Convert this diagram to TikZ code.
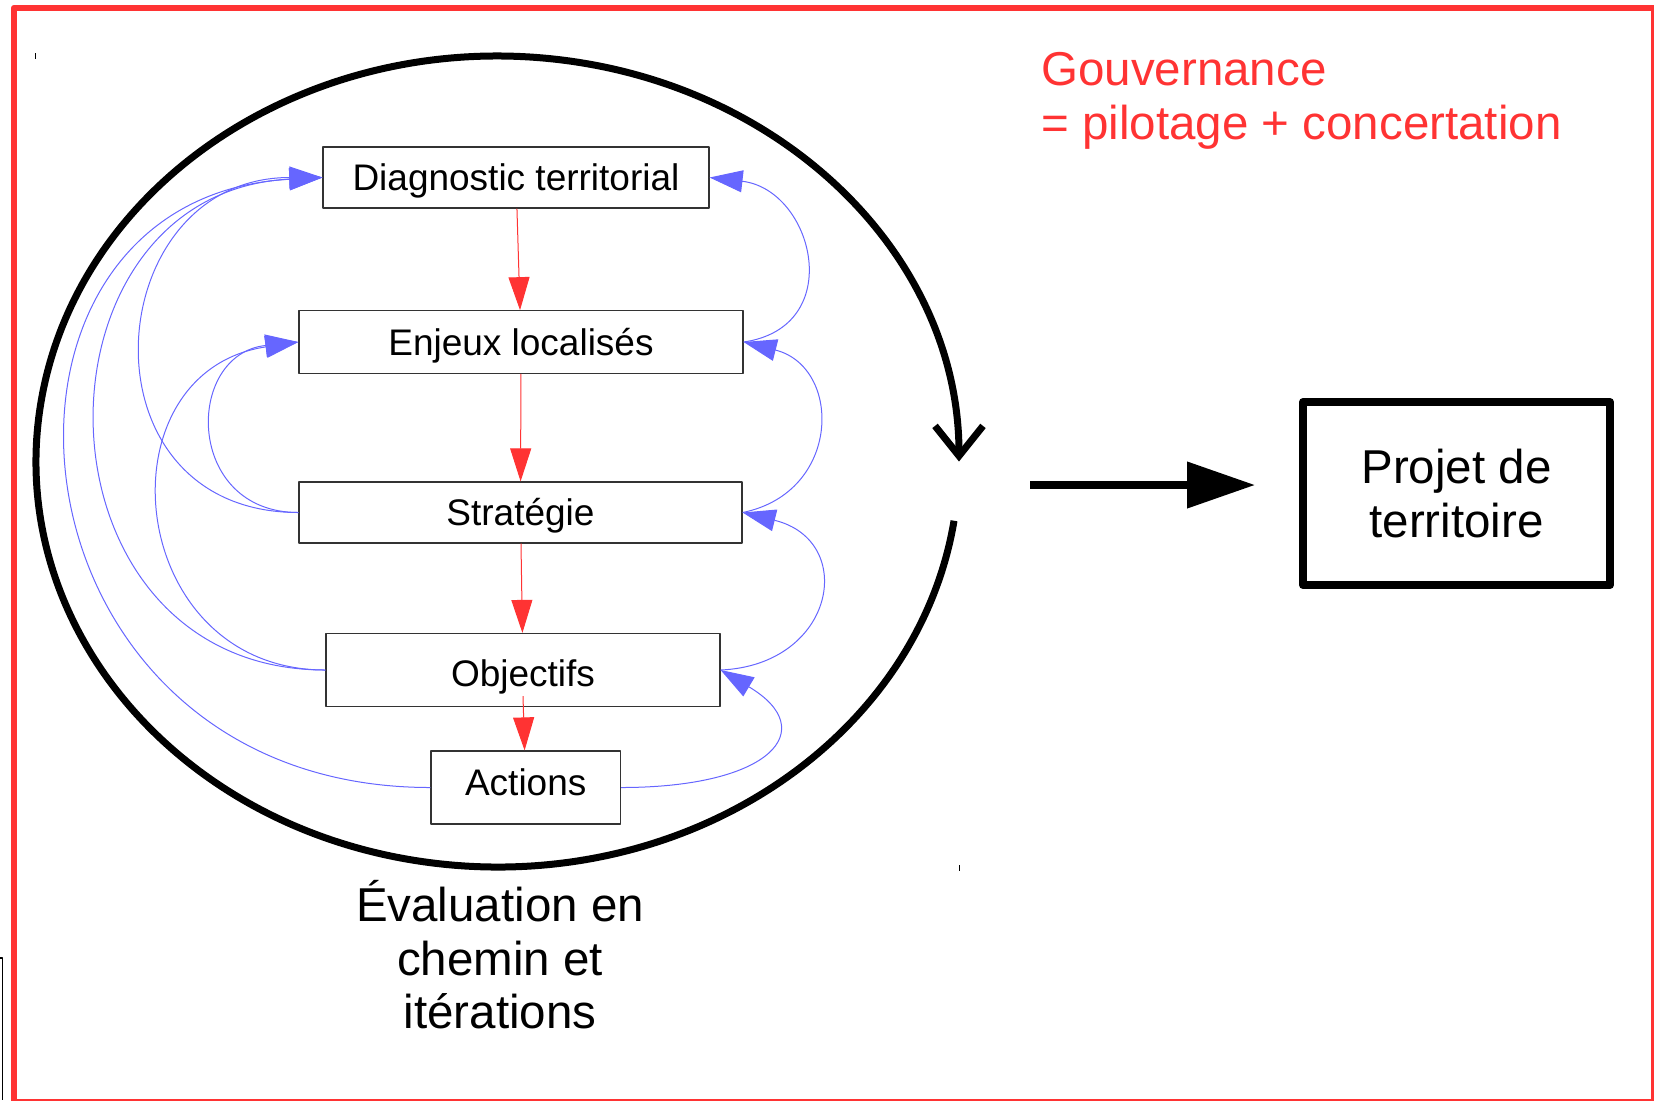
\documentclass[tikz,border=0pt]{standalone}
\usepackage{fontspec}
\setmainfont{Liberation Sans}
\usetikzlibrary{arrows.meta}
\definecolor{cadre}{RGB}{255,51,51}
\definecolor{boucle}{RGB}{102,102,255}
\tikzset{
  etape/.style={draw=black!80, line width=.6pt, inner sep=0pt, text height=13.25pt, text depth=0pt, font=\fontsize{18.5pt}{22pt}\selectfont},
  flux/.style={draw=cadre, line width=.5pt, -{Triangle[length=16.5pt,width=10.5pt]}},
  retour/.style={draw=boucle, line width=.5pt, -{Triangle[length=16.5pt,width=11pt]}},
  grand/.style={font=\fontsize{23.75pt}{26.75pt}\selectfont, align=center, inner sep=0pt},
}
\begin{document}
\begin{tikzpicture}[x=.5pt,y=-.5pt, line join=round]
	\useasboundingbox (0,0) rectangle (1654,1100);
	\draw[cadre, line width=3.25pt] (14,8) rectangle (1654,1102); % cadre
	\draw[line width=.5pt] (35.5,53)--(35.5,59) (959,865)--(959,871);
	\draw[line width=.6pt] (0,958)--(2.5,958)--(2.5,1100);
	% les etapes
	\node[etape, minimum width=193pt, minimum height=30.5pt] (diag) at (516,177.5) {Diagnostic territorial};
	\node[etape, minimum width=222pt, minimum height=31.25pt] (enj) at (521,342) {Enjeux localisés};
	\node[etape, minimum width=221.5pt, minimum height=30.5pt] (strat) at (520.5,512.5) {Stratégie};
	\node[etape, minimum width=197pt, minimum height=36.5pt, text height=16.7pt] (obj) at (523,670) {Objectifs};
	\node[etape, minimum width=94.75pt, minimum height=36.5pt, text depth=5.75pt] (act) at (525.7,787.5) {Actions};
	\draw[flux] (diag)--(enj);
	\draw[flux] (enj)--(strat);
	\draw[flux] (strat)--(obj);
	\draw[flux] ([yshift=5.5pt]obj.south)--(act);
	% retours a gauche
	\draw[retour] (strat.west) .. controls +(-224,0) and +(-224,0) .. (diag.west);
	\draw[retour] (strat.west) .. controls +(-114,0) and +(-114,12) .. (enj.west);
	\draw[retour] (obj.west) .. controls +(-201,0) and +(-201,30) .. (enj.west);
	\draw[retour] (obj.west) .. controls +(-302,0) and +(-302,15) .. (diag.west);
	\draw[retour] (act.west) .. controls +(-436,0) and +(-376,20) .. (diag.west);
	% retours a droite
	\draw[retour] (enj.east) .. controls +(104,-15) and +(104,12) .. (diag.east);
	\draw[retour] (strat.east) .. controls +(99,-20) and +(99,25) .. (enj.east);
	\draw[retour] (obj.east) .. controls +(115,-5) and +(115,28) .. (strat.east);
	\draw[retour] (act.east) .. controls +(150,0) and +(101,60) .. (obj.east);
	% boucle d'evaluation
	\draw[line width=3.5pt, -{Straight Barb[length=15pt,width=24pt]}] (497.5,461.5) ++(8.4:461.5 and 405.5)
		arc[start angle=8.4, end angle=360, x radius=461.5, y radius=405.5];
	\node[grand] (eval) at (500,955) {Évaluation en\\chemin et\\itérations};
	\node[grand, align=left, text=cadre, anchor=north west] (gouv) at (1041,52) {Gouvernance\\= pilotage + concertation};
	% resultat
	\node[grand, draw, line width=4pt, minimum width=153.5pt, minimum height=91.5pt] (projet) at (1456.5,493.5) {Projet de\\territoire};
	\coordinate (sortie) at (1030,485);
	\coordinate (cible) at (1255,485);
	\draw[line width=3.75pt, -{Triangle[length=34pt,width=22.5pt]}] (sortie)--(cible);
\end{tikzpicture}
\end{document}
